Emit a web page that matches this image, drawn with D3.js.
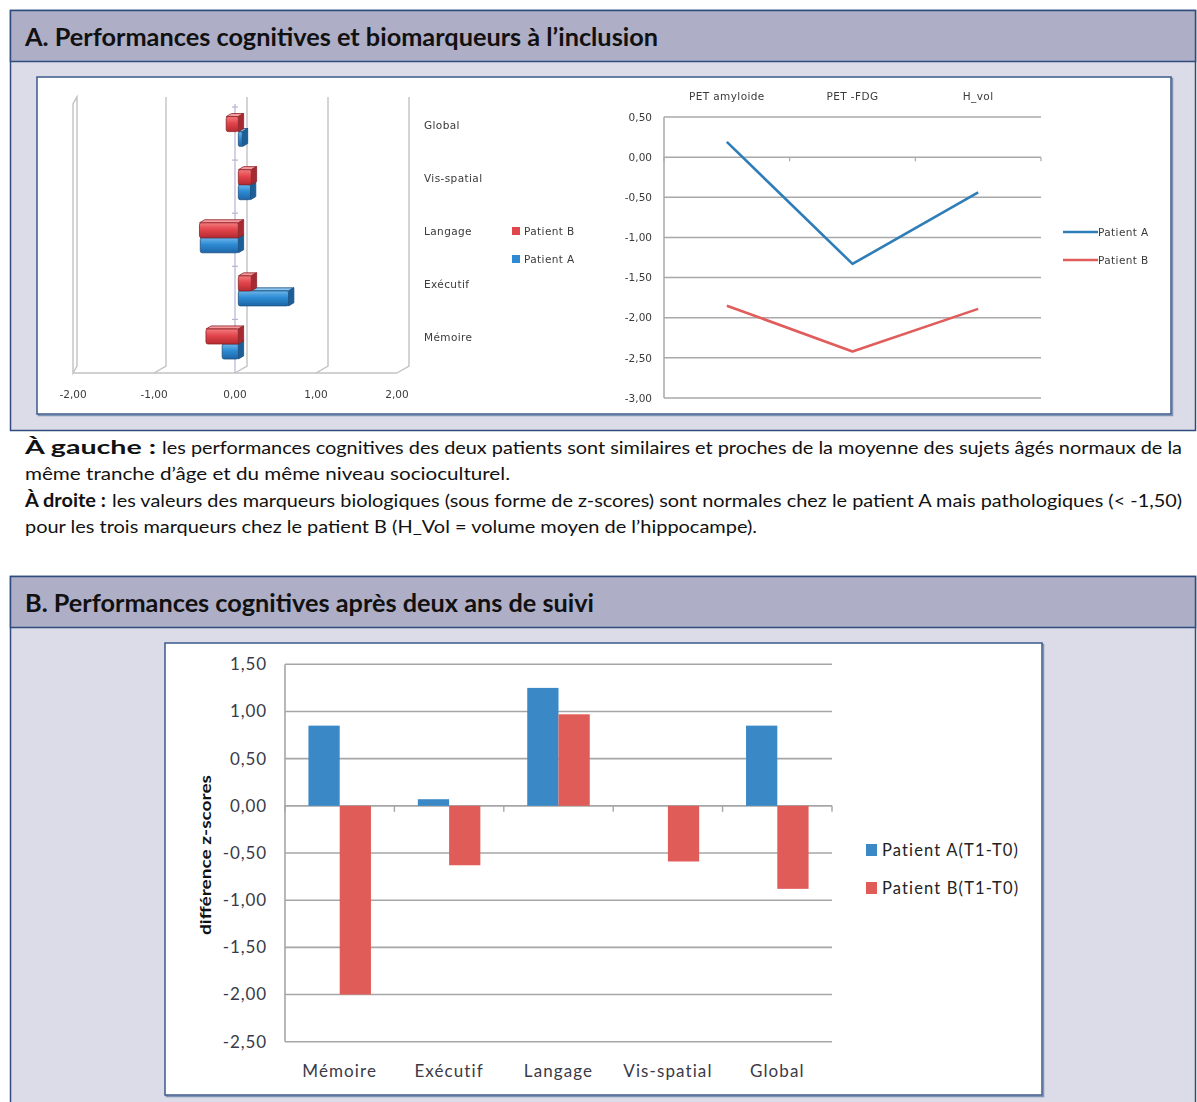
<!DOCTYPE html>
<html>
<head>
<meta charset="utf-8">
<script src="https://cdn.jsdelivr.net/npm/d3@7"></script>
<style>
  body { margin: 0; background: #fff; }
  svg { display: block; }
</style>
</head>
<body>
<script>
// ---- Panel A, left: cognitive z-scores at inclusion (3D horizontal bars)
const cogCategories = ["Mémoire", "Exécutif", "Langage", "Vis-spatial", "Global"];
const cogPatientA = [-0.20, 0.62, -0.47, 0.15, 0.05];
const cogPatientB = [-0.40, 0.16, -0.48, 0.16, -0.15];
const cogTicks = [-2, -1, 0, 1, 2];

// ---- Panel A, right: biomarker z-scores
const markerNames = ["PET amyloide", "PET -FDG", "H_vol"];
const markerPatientA = [0.19, -1.33, -0.44];
const markerPatientB = [-1.85, -2.42, -1.89];
const markerTicks = [0.5, 0, -0.5, -1, -1.5, -2, -2.5, -3];

// ---- Panel B: change in cognitive z-scores after two years
const followCategories = ["Mémoire", "Exécutif", "Langage", "Vis-spatial", "Global"];
const followPatientA = [0.85, 0.07, 1.25, 0, 0.85];
const followPatientB = [-2.00, -0.63, 0.97, -0.59, -0.88];
const followTicks = [1.5, 1, 0.5, 0, -0.5, -1, -1.5, -2, -2.5];
const followSeries = ["Patient A(T1-T0)", "Patient B(T1-T0)"];

const fmt = v => v.toFixed(2).replace(".", ",");

const svg = d3.select("body").append("svg")
  .attr("width", 1197).attr("height", 1102);

const defs = svg.append("defs");
defs.append("filter").attr("id", "soft")
  .append("feGaussianBlur").attr("stdDeviation", 0.45);

function vGrad(id, top, mid, bottom) {
  const g = defs.append("linearGradient").attr("id", id)
    .attr("x1", 0).attr("y1", 0).attr("x2", 0).attr("y2", 1);
  g.append("stop").attr("offset", "0%").attr("stop-color", top);
  g.append("stop").attr("offset", "45%").attr("stop-color", mid);
  g.append("stop").attr("offset", "100%").attr("stop-color", bottom);
}
vGrad("redFront", "#f27b7e", "#e2454b", "#b52b31");
vGrad("blueFront", "#6cb6ea", "#2d8bd3", "#1f66a6");

// ---------- framed panels with headers
function panel(y0, y1, title, titleWidth) {
  svg.append("rect")
    .attr("x", 10.5).attr("y", y0 + 0.5)
    .attr("width", 1185).attr("height", y1 - y0)
    .attr("fill", "#dcdce9").attr("stroke", "#2f4c7c").attr("stroke-width", 1.5);
  svg.append("rect")
    .attr("x", 10.5).attr("y", y0 + 0.5)
    .attr("width", 1185).attr("height", 51)
    .attr("fill", "#aeaec7").attr("stroke", "#2f4c7c").attr("stroke-width", 1.5);
  svg.append("text")
    .attr("x", 25).attr("y", y0 + 36)
    .attr("font-family", "Lato").attr("font-weight", 700).attr("font-size", 24)
    .attr("fill", "#111")
    .attr("textLength", titleWidth).attr("lengthAdjust", "spacingAndGlyphs")
    .text(title);
}
panel(10, 430, "A. Performances cognitives et biomarqueurs à l’inclusion", 633);
panel(576, 1120, "B. Performances cognitives après deux ans de suivi", 569);

function chartBox(x, y, w, h) {
  svg.append("rect").attr("x", x + 1.5).attr("y", y + 1.5).attr("width", w).attr("height", h)
    .attr("fill", "none").attr("stroke", "#7f93b5").attr("stroke-width", 1.5);
  svg.append("rect").attr("x", x).attr("y", y).attr("width", w).attr("height", h)
    .attr("fill", "#fff").attr("stroke", "#3b5a8a").attr("stroke-width", 1.5);
}
chartBox(37, 77, 1134, 337);
chartBox(165, 643, 877, 452);

// ---------- caption
const cap = svg.append("g").attr("font-family", "Lato").attr("font-size", 18).attr("fill", "#111");
function capText(x, y, str, width, bold) {
  cap.append("text").attr("x", x).attr("y", y)
    .attr("font-weight", bold ? 700 : 400)
    .attr("textLength", width).attr("lengthAdjust", "spacingAndGlyphs")
    .text(str);
}
capText(25, 454, "À gauche :", 131, true);
capText(162, 454, "les performances cognitives des deux patients sont similaires et proches de la moyenne des sujets âgés normaux de la", 1020, false);
capText(25, 480, "même tranche d’âge et du même niveau socioculturel.", 485, false);
capText(25, 507, "À droite :", 81, true);
capText(112, 507, "les valeurs des marqueurs biologiques (sous forme de z-scores) sont normales chez le patient A mais pathologiques (< -1,50)", 1070, false);
capText(25, 533, "pour les trois marqueurs chez le patient B (H_Vol = volume moyen de l’hippocampe).", 732, false);

// ---------- Panel A left: 3D horizontal bars
(function () {
  const g = svg.append("g").attr("filter", "url(#soft)");
  const xs = d3.scaleLinear().domain([-2, 2]).range([73, 397]);
  const DX = 12, DY = 7;            // depth vector of the plot box
  const floorY = 373, wallTop = 97;
  const ys = d3.scaleBand().domain(cogCategories.slice().reverse()).range([107, 372.5]);
  const P = (v, y, d) => [xs(v) + d * DX, y - d * DY];
  const grid = "#c2c2c2";
  const txt = "#3a3a3a";

  // floor front edge
  g.append("line").attr("x1", xs(-2)).attr("x2", xs(2)).attr("y1", floorY).attr("y2", floorY)
    .attr("stroke", grid).attr("stroke-width", 1.4);
  // left side wall
  g.append("path")
    .attr("d", d3.line()([[xs(-2), floorY], [xs(-2) + 4, floorY - DY], [xs(-2) + 4, wallTop], [xs(-2), wallTop + DY]]) + "Z")
    .attr("fill", "#fff").attr("stroke", grid).attr("stroke-width", 1.4);
  // back-wall gridlines with their floor slants
  cogTicks.filter(v => v > -2).forEach(v => {
    g.append("path")
      .attr("d", d3.line()([[xs(v), floorY], [xs(v) + DX, floorY - DY], [xs(v) + DX, wallTop]]))
      .attr("fill", "none").attr("stroke", grid).attr("stroke-width", 1.4);
  });
  // category axis at value 0
  g.append("line").attr("x1", xs(0)).attr("x2", xs(0)).attr("y1", 104).attr("y2", floorY)
    .attr("stroke", "#b9b2d2").attr("stroke-width", 1.2);
  ys.domain().forEach(c => {
    g.append("line").attr("x1", xs(0) - 3).attr("x2", xs(0) + 3)
      .attr("y1", ys(c)).attr("y2", ys(c)).attr("stroke", "#b9b2d2").attr("stroke-width", 1.2);
  });

  // value labels under the floor
  g.selectAll(".xt").data(cogTicks).join("text")
    .attr("x", d => xs(d)).attr("y", 398)
    .attr("text-anchor", "middle")
    .attr("font-family", "DejaVu Sans").attr("font-size", 10.5).attr("fill", txt)
    .text(fmt);

  // bars: Patient A below, Patient B above within each category
  const barH = 15, d0 = 0.28, d1 = 0.72;
  function bar(v, yTop, front, top, side, edge) {
    const a = Math.min(v, 0), b = Math.max(v, 0), yBot = yTop + barH;
    const poly = pts => d3.line()(pts) + "Z";
    g.append("path").attr("d", poly([P(a, yTop, d0), P(b, yTop, d0), P(b, yTop, d1), P(a, yTop, d1)]))
      .attr("fill", top).attr("stroke", edge).attr("stroke-width", 0.8);
    g.append("path").attr("d", poly([P(b, yTop, d0), P(b, yTop, d1), P(b, yBot, d1), P(b, yBot, d0)]))
      .attr("fill", side).attr("stroke", edge).attr("stroke-width", 0.8);
    const p = P(a, yTop, d0), q = P(b, yBot, d0);
    g.append("rect").attr("x", p[0]).attr("y", p[1])
      .attr("width", Math.max(q[0] - p[0], 0.5)).attr("height", q[1] - p[1])
      .attr("rx", 2).attr("fill", front).attr("stroke", edge).attr("stroke-width", 0.8);
  }
  cogCategories.forEach((c, i) => {
    const yc = ys(c) + ys.bandwidth() / 2;
    bar(cogPatientA[i], yc, "url(#blueFront)", "#8cc8f0", "#1d5f98", "#1b4f80");
    bar(cogPatientB[i], yc - barH, "url(#redFront)", "#f59a9c", "#a52a30", "#8e2328");
  });

  // category labels
  g.selectAll(".cl").data(cogCategories).join("text")
    .attr("x", 424).attr("y", d => ys(d) + ys.bandwidth() / 2 - 8.5)
    .attr("dy", "0.35em")
    .attr("font-family", "DejaVu Sans").attr("font-size", 10.5).attr("fill", txt)
    .attr("letter-spacing", 0.4)
    .text(d => d);

  // legend
  const leg = [["Patient B", "#e0474d", 231], ["Patient A", "#2e8bd3", 259]];
  leg.forEach(([name, col, y]) => {
    g.append("rect").attr("x", 512).attr("y", y - 4).attr("width", 8).attr("height", 8).attr("fill", col);
    g.append("text").attr("x", 524).attr("y", y).attr("dy", "0.35em")
      .attr("font-family", "DejaVu Sans").attr("font-size", 10.5).attr("fill", txt)
      .attr("letter-spacing", 0.4).text(name);
  });
})();

// ---------- Panel A right: biomarker lines
(function () {
  const g = svg.append("g").attr("filter", "url(#soft)");
  const x = d3.scalePoint().domain(markerNames).range([664, 1041]).padding(0.5);
  const y = d3.scaleLinear().domain([-3, 0.5]).range([398, 117]);
  const grid = "#a9a9a9";
  const txt = "#3a3a3a";

  g.selectAll(".gl").data(markerTicks).join("line")
    .attr("x1", 664).attr("x2", 1041)
    .attr("y1", d => y(d)).attr("y2", d => y(d))
    .attr("stroke", grid).attr("stroke-width", 1.5);
  g.append("line").attr("x1", 664).attr("x2", 664).attr("y1", y(0.5)).attr("y2", y(-3))
    .attr("stroke", grid).attr("stroke-width", 1.5);
  // category boundary ticks on the zero line
  const step = x.step();
  d3.range(0, markerNames.length + 1).forEach(k => {
    const xx = 664 + k * step;
    g.append("line").attr("x1", xx).attr("x2", xx).attr("y1", y(0)).attr("y2", y(0) + 4)
      .attr("stroke", grid).attr("stroke-width", 1.2);
  });

  g.selectAll(".yl").data(markerTicks).join("text")
    .attr("x", 652).attr("y", d => y(d)).attr("dy", "0.35em")
    .attr("text-anchor", "end")
    .attr("font-family", "DejaVu Sans").attr("font-size", 10.5).attr("fill", txt)
    .text(fmt);
  g.selectAll(".xl").data(markerNames).join("text")
    .attr("x", d => x(d)).attr("y", 96).attr("dy", "0.35em")
    .attr("text-anchor", "middle")
    .attr("font-family", "DejaVu Sans").attr("font-size", 10.5).attr("fill", txt)
    .attr("letter-spacing", 0.4)
    .text(d => d);

  const line = d3.line().x((d, i) => x(markerNames[i])).y(d => y(d));
  const series = [["Patient A", markerPatientA, "#2f7db8", 232], ["Patient B", markerPatientB, "#e05d5b", 260]];
  series.forEach(([name, vals, col, ly]) => {
    g.append("path").attr("d", line(vals)).attr("fill", "none")
      .attr("stroke", col).attr("stroke-width", 2.6).attr("stroke-linejoin", "round");
    g.append("line").attr("x1", 1063).attr("x2", 1098).attr("y1", ly).attr("y2", ly)
      .attr("stroke", col).attr("stroke-width", 2.6);
    g.append("text").attr("x", 1098).attr("y", ly).attr("dy", "0.35em")
      .attr("font-family", "DejaVu Sans").attr("font-size", 10.5).attr("fill", txt)
      .attr("letter-spacing", 0.4).text(name);
  });
})();

// ---------- Panel B: grouped vertical bars
(function () {
  const g = svg.append("g");
  const x0 = d3.scaleBand().domain(followCategories).range([285, 832]);
  const x1 = d3.scaleBand().domain([0, 1]).range([0, x0.bandwidth()]).paddingOuter(0.75);
  const y = d3.scaleLinear().domain([-2.5, 1.5]).range([1041.7, 664.3]);
  const grid = "#a6a6a6";
  const colors = ["#3a89c6", "#e05c59"];

  g.selectAll(".gl").data(followTicks).join("line")
    .attr("x1", 285).attr("x2", 832)
    .attr("y1", d => y(d)).attr("y2", d => y(d))
    .attr("stroke", grid).attr("stroke-width", 1.6);
  g.append("line").attr("x1", 285).attr("x2", 285).attr("y1", y(1.5)).attr("y2", y(-2.5))
    .attr("stroke", grid).attr("stroke-width", 1.6);
  d3.range(0, followCategories.length + 1).forEach(k => {
    const xx = 285 + k * x0.step();
    g.append("line").attr("x1", xx).attr("x2", xx).attr("y1", y(0)).attr("y2", y(0) + 6)
      .attr("stroke", grid).attr("stroke-width", 1.4);
  });

  [followPatientA, followPatientB].forEach((vals, s) => {
    g.selectAll(".b" + s).data(vals).join("rect")
      .attr("x", (d, i) => x0(followCategories[i]) + x1(s))
      .attr("width", x1.bandwidth())
      .attr("y", d => y(Math.max(d, 0)))
      .attr("height", d => Math.abs(y(d) - y(0)))
      .attr("fill", colors[s]);
  });

  g.selectAll(".yl").data(followTicks).join("text")
    .attr("x", 267).attr("y", d => y(d)).attr("dy", "0.35em")
    .attr("text-anchor", "end")
    .attr("font-family", "Lato").attr("font-size", 17).attr("fill", "#3a3a48")
    .attr("letter-spacing", 0.9)
    .text(fmt);
  g.selectAll(".xl").data(followCategories).join("text")
    .attr("x", d => x0(d) + x0.bandwidth() / 2).attr("y", 1071).attr("dy", "0.35em")
    .attr("text-anchor", "middle")
    .attr("font-family", "Lato").attr("font-size", 17).attr("fill", "#3a3a48")
    .attr("letter-spacing", 1.1)
    .text(d => d);

  g.append("text")
    .attr("transform", "translate(211,855) rotate(-90)")
    .attr("text-anchor", "middle")
    .attr("font-family", "Lato").attr("font-weight", 700).attr("font-size", 15).attr("fill", "#111")
    .attr("textLength", 160).attr("lengthAdjust", "spacingAndGlyphs")
    .text("différence z-scores");

  followSeries.forEach((name, s) => {
    const cy = 850 + s * 38;
    g.append("rect").attr("x", 866).attr("y", cy - 6).attr("width", 11).attr("height", 12).attr("fill", colors[s]);
    g.append("text").attr("x", 882).attr("y", cy).attr("dy", "0.35em")
      .attr("font-family", "Lato").attr("font-size", 16.5).attr("fill", "#222")
      .attr("letter-spacing", 1.15)
      .text(name);
  });
})();
</script>
</body>
</html>
